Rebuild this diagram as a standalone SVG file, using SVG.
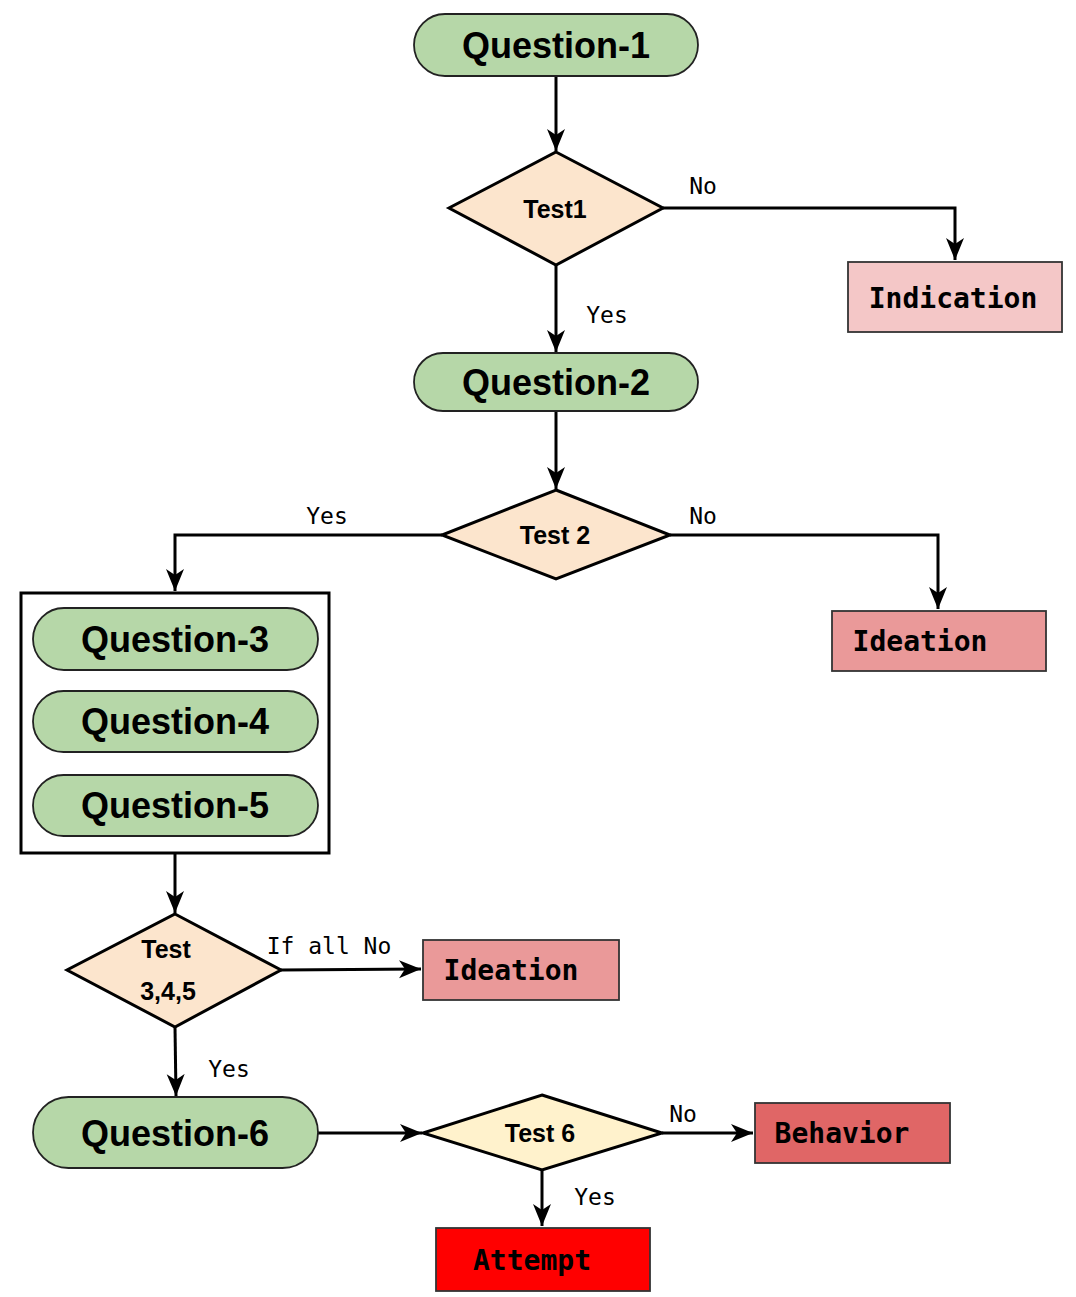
<svg xmlns="http://www.w3.org/2000/svg" width="1076" height="1297" viewBox="0 0 1076 1297">
<defs>
<style>
.q{fill:#b6d7a8;stroke:#222;stroke-width:1.8}
.qt{font-family:"Liberation Sans",Arial,sans-serif;font-weight:bold;font-size:36px;fill:#000;text-anchor:middle;dominant-baseline:central}
.d{fill:#fce5cd;stroke:#000;stroke-width:3;stroke-linejoin:miter}
.dt{font-family:"Liberation Sans",Arial,sans-serif;font-weight:bold;font-size:25px;fill:#000;text-anchor:middle;dominant-baseline:central}
.r{stroke:#333;stroke-width:1.8}
.rt{font-family:"DejaVu Sans Mono",monospace;font-weight:bold;font-size:28px;fill:#000;text-anchor:middle;dominant-baseline:central}
.lb{font-family:"DejaVu Sans Mono",monospace;font-size:23px;fill:#000;text-anchor:middle;dominant-baseline:central}
.c{fill:none;stroke:#000;stroke-width:3;marker-end:url(#ah)}
</style>
<marker id="ah" markerUnits="userSpaceOnUse" markerWidth="24" markerHeight="20" viewBox="0 0 24 20" refX="22" refY="10" orient="auto">
<path d="M0,1 L22,10 L0,19 L6,10 Z" fill="#000"/>
</marker>
</defs>

<g id="connectors">
<path class="c" d="M556,76 V151"/>
<path class="c" d="M663,208 H955 V260"/>
<path class="c" d="M556,265 V352"/>
<path class="c" d="M556,411 V489"/>
<path class="c" d="M442,535 H175 V591"/>
<path class="c" d="M670,535 H938 V609"/>
<path class="c" d="M175,853 V913"/>
<path class="c" d="M281,970 L421,969"/>
<path class="c" d="M175,1027 L176,1096"/>
<path class="c" d="M318,1133 H422"/>
<path class="c" d="M662,1133 H753"/>
<path class="c" d="M542,1170 V1226"/>
</g>

<g id="labels">
<text class="lb" x="703" y="186">No</text>
<text class="lb" x="607" y="315">Yes</text>
<text class="lb" x="327" y="516">Yes</text>
<text class="lb" x="703" y="516">No</text>
<text class="lb" x="329" y="946">If all No</text>
<text class="lb" x="229" y="1069">Yes</text>
<text class="lb" x="683" y="1114">No</text>
<text class="lb" x="595" y="1197">Yes</text>
</g>

<g id="question1">
<rect class="q" x="414" y="14" width="284" height="62" rx="31"/>
<text class="qt" x="556" y="45">Question-1</text>
</g>
<g id="test1">
<polygon class="d" points="556,152 663,208 556,265 449,208"/>
<text class="dt" x="555" y="209">Test1</text>
</g>
<g id="indication">
<rect class="r" x="848" y="262" width="214" height="70" fill="#f4c7c7"/>
<text class="rt" x="953" y="298">Indication</text>
</g>
<g id="question2">
<rect class="q" x="414" y="353" width="284" height="58" rx="29"/>
<text class="qt" x="556" y="382">Question-2</text>
</g>
<g id="test2">
<polygon class="d" points="556,490 670,535 556,579 442,535"/>
<text class="dt" x="555" y="535">Test 2</text>
</g>
<g id="ideation1">
<rect class="r" x="832" y="611" width="214" height="60" fill="#ea9999"/>
<text class="rt" x="920" y="641">Ideation</text>
</g>
<g id="group345">
<rect x="21" y="593" width="308" height="260" fill="#fff" stroke="#000" stroke-width="3"/>
<g id="question3">
<rect class="q" x="33" y="608" width="285" height="62" rx="31"/>
<text class="qt" x="175" y="639">Question-3</text>
</g>
<g id="question4">
<rect class="q" x="33" y="691" width="285" height="61" rx="30.5"/>
<text class="qt" x="175" y="721">Question-4</text>
</g>
<g id="question5">
<rect class="q" x="33" y="775" width="285" height="61" rx="30.5"/>
<text class="qt" x="175" y="805">Question-5</text>
</g>
</g>
<g id="test345">
<polygon class="d" points="175,914 281,970 175,1027 67,970"/>
<text class="dt" x="166" y="949">Test</text>
<text class="dt" x="168" y="991">3,4,5</text>
</g>
<g id="ideation2">
<rect class="r" x="423" y="940" width="196" height="60" fill="#ea9999"/>
<text class="rt" x="511" y="970">Ideation</text>
</g>
<g id="question6">
<rect class="q" x="33" y="1097" width="285" height="71" rx="35.5"/>
<text class="qt" x="175" y="1133">Question-6</text>
</g>
<g id="test6">
<polygon class="d" points="542,1095 662,1133 542,1170 423,1133" style="fill:#fff2cc"/>
<text class="dt" x="540" y="1133">Test 6</text>
</g>
<g id="behavior">
<rect class="r" x="755" y="1103" width="195" height="60" fill="#e06666"/>
<text class="rt" x="842" y="1133">Behavior</text>
</g>
<g id="attempt">
<rect class="r" x="436" y="1228" width="214" height="63" fill="#ff0000"/>
<text class="rt" x="532" y="1260">Attempt</text>
</g>
</svg>
